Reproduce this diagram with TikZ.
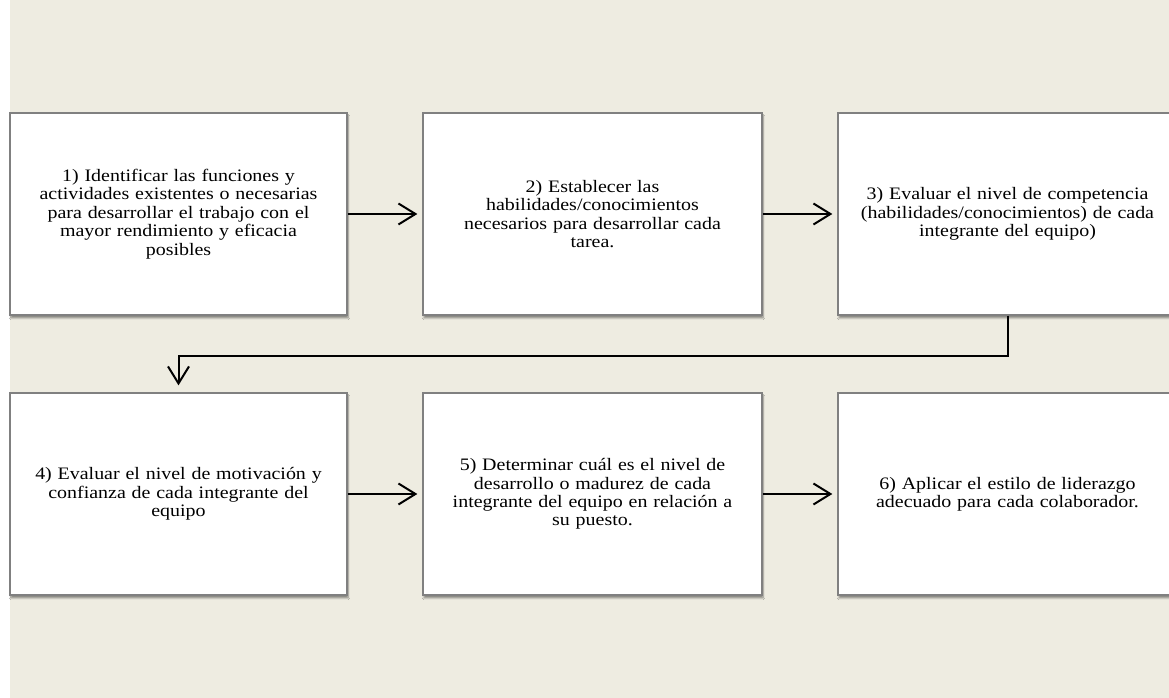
\documentclass[tikz,border=0pt]{standalone}
\usepackage{fontspec}
\setmainfont{Liberation Serif}[FakeStretch=1.14]
\usepackage{tikz}
\usetikzlibrary{positioning,arrows.meta,calc,shadows.blur}
\definecolor{bgcol}{RGB}{238,236,225}
\definecolor{edgecol}{RGB}{128,128,128}

\begin{document}
\begin{tikzpicture}[x=1pt,y=1pt,
  nd/.style={rectangle, draw=edgecol, line width=1.3pt, fill=white, minimum width=#1, minimum height=202pt,
             text width=336pt, align=center, inner sep=0pt, font=\fontsize{17.5}{18.4}\selectfont,
             blur shadow={shadow xshift=1pt, shadow yshift=-3pt, shadow blur steps=6, shadow opacity=45}},
  ar/.style={-{Straight Barb[length=17pt, width=21pt, line width=2pt]}, line width=2pt, black, shorten >=5pt}
]
\useasboundingbox (0,0) rectangle (1169,698);
\fill[white] (0,0) rectangle (1169,698);
\fill[bgcol] (10,0) rectangle (1169,698);

\node[nd=337pt] (b1) at (178.5,484) {1) Identificar las funciones y\\actividades existentes o necesarias\\para desarrollar el trabajo con el\\mayor rendimiento y eficacia\\posibles};
\node[nd=339pt] (b2) at (592.5,484) {2) Establecer las\\habilidades/conocimientos\\necesarios para desarrollar cada\\tarea.};
\node[nd=339pt] (b3) at (1007.5,484) {3) Evaluar el nivel de competencia\\(habilidades/conocimientos) de cada\\integrante del equipo)};
\node[nd=337pt] (b4) at (178.5,204) {4) Evaluar el nivel de motivación y\\confianza de cada integrante del\\equipo};
\node[nd=339pt] (b5) at (592.5,204) {5) Determinar cuál es el nivel de\\desarrollo o madurez de cada\\integrante del equipo en relación a\\su puesto.};
\node[nd=339pt] (b6) at (1007.5,204) {6) Aplicar el estilo de liderazgo\\adecuado para cada colaborador.};

\foreach \a/\b in {b1/b2,b2/b3,b4/b5,b5/b6}
  \draw[ar] (\a) -- (\b);

\draw[ar, shorten >=7pt] (b3.south) -- ++(0,-40) -| (b4.north);

\end{tikzpicture}
\end{document}
